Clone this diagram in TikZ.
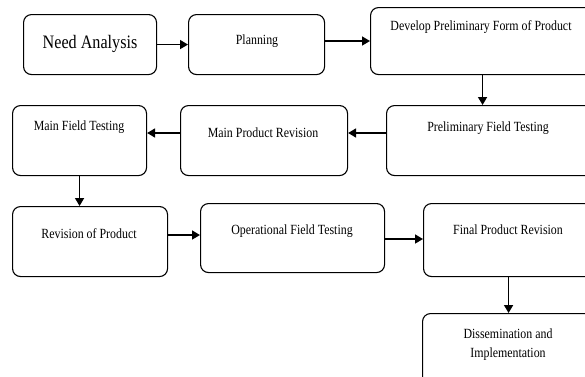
\documentclass[tikz,border=0pt]{standalone}
\usepackage{fontspec}
\usepackage{graphicx}
\setmainfont{Liberation Serif}
\usetikzlibrary{arrows.meta}
\newcommand\narrowtext[1]{\scalebox{0.85}[1]{#1}}
\begin{document}
\begin{tikzpicture}[x=1pt,y=-1pt,
  box/.style={draw=black,line width=1.1pt,rounded corners=8pt,inner sep=0pt,anchor=north west},
  lbl/.style={font=\fontsize{14}{16}\selectfont,inner sep=0pt,align=center},
  arr/.style={line width=1.6pt,-{Triangle[length=8pt,width=9pt]}}]
\useasboundingbox (0,0) rectangle (585,376);
\begin{scope}
\clip (0,0) rectangle (585,376);
% row 1
\node[box,minimum width=133pt,minimum height=60pt] (na) at (23,14) {};
\node[box,minimum width=136pt,minimum height=60pt] (pl) at (188,14) {};
\node[box,minimum width=224pt,minimum height=67pt] (dp) at (370,7) {};
% row 2
\node[box,minimum width=134pt,minimum height=70pt] (mft) at (12,105) {};
\node[box,minimum width=167pt,minimum height=70pt] (mpr) at (180,105) {};
\node[box,minimum width=208pt,minimum height=70pt] (pft) at (386,105) {};
% row 3
\node[box,minimum width=155pt,minimum height=70pt] (rop) at (12,206) {};
\node[box,minimum width=184pt,minimum height=69pt] (oft) at (200,203) {};
\node[box,minimum width=170pt,minimum height=73pt] (fpr) at (423,203) {};
\node[box,minimum width=172pt,minimum height=80pt] (dis) at (422,313) {};
\end{scope}
% labels
\node[inner sep=0pt,font=\fontsize{19}{21}\selectfont] (tna) at (90,44) {\narrowtext{Need Analysis}};
\node[lbl] (tpl) at (257,41) {\narrowtext{Planning}};
\node[lbl] (tdp) at (481,27) {\narrowtext{Develop Preliminary Form of Product}};
\node[lbl] (tmft) at (79,127) {\narrowtext{Main Field Testing}};
\node[lbl] (tmpr) at (263,133) {\narrowtext{Main Product Revision}};
\node[lbl] (tpft) at (488,128) {\narrowtext{Preliminary Field Testing}};
\node[lbl] (trop) at (89,234) {\narrowtext{Revision of Product}};
\node[lbl] (toft) at (292,231) {\narrowtext{Operational Field Testing}};
\node[lbl] (tfpr) at (508,230) {\narrowtext{Final Product Revision}};
\node[lbl] (tdis1) at (508,334) {\narrowtext{Dissemination and}};
\node[lbl] (tdis2) at (508,354) {\narrowtext{Implementation}};
% arrows
\draw[arr] (na.east) -- (pl.west);
\draw[arr] (pl.east |- 0,41) -- (dp.west |- 0,41);
\draw[arr] (dp.south) -- (dp.south |- pft.north);
\draw[arr] (pft.west |- 0,133) -- (mpr.east |- 0,133);
\draw[arr] (mpr.west |- 0,133) -- (mft.east |- 0,133);
\draw[arr] (mft.south) -- (mft.south |- rop.north);
\draw[arr] (rop.east |- 0,235) -- (oft.west |- 0,235);
\draw[arr] (oft.east |- 0,239) -- (fpr.west |- 0,239);
\draw[arr] (fpr.south -| dis.north) -- (dis.north);
\end{tikzpicture}
\end{document}
